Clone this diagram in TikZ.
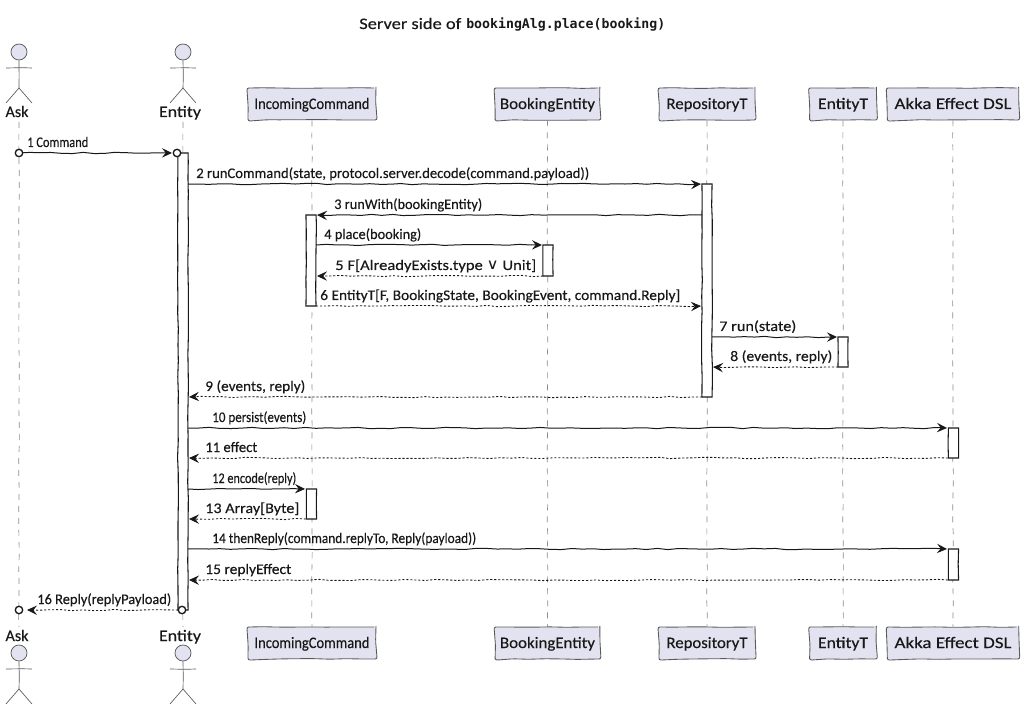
\documentclass[tikz,border=0pt]{standalone}
\usepackage{fontspec}
\usepackage{graphicx}
\usetikzlibrary{arrows.meta,decorations.pathmorphing}
\setmainfont{Carlito}[FakeBold=0.25]
\newfontfamily\monob{DejaVu Sans Mono}
\newfontfamily\symb{DejaVu Sans}
\definecolor{partfill}{HTML}{E2E2F0}
\definecolor{partline}{HTML}{5A5A5A}
\definecolor{lifeline}{HTML}{8C8C8C}
\definecolor{ink}{HTML}{181818}
\newcommand{\fitw}[2]{\resizebox{\dimexpr0.75pt*#1\relax}{\height}{#2}}
\newcommand{\msg}[8]{%
  \coordinate (#1-s) at (#2,#4);
  \coordinate (#1-t) at (#3,#4);
  \draw[#5] (#1-s) -- (#1-t);
  \node[msgtext] (#1-l) at (#6,#4-6) {\fitw{#7}{#8}};
}
\newcommand{\actbar}[4]{%
  \node[barbox,minimum height=\dimexpr0.75pt*(#4-#3)\relax] (#1) at ({#2},{(#3+#4)/2}) {};
}
\newcommand{\stickman}[3]{%
  % name, x, top of head
  \node[headshape] (#1-head) at ({#2},{#3+8}) {};
  \coordinate (#1-hip) at ({#2},{#3+44});
  \coordinate (#1-arml) at ({#2-13},{#3+24});
  \coordinate (#1-armr) at ({#2+13},{#3+24});
  \coordinate (#1-legl) at ({#2-13},{#3+59});
  \coordinate (#1-legr) at ({#2+13},{#3+59});
  \draw[stick] (#1-head) -- (#1-hip);
  \draw[stick] (#1-arml) -- (#1-armr);
  \draw[stick] (#1-legl) -- (#1-hip) -- (#1-legr);
}
\tikzset{
  x=0.75pt,y=-0.75pt,
  wob/.style={decorate,decoration={random steps,segment length=8pt,amplitude=0.5pt}},
  wobfine/.style={decorate,decoration={random steps,segment length=12pt,amplitude=0.3pt}},
  partbox/.style={draw=partline,fill=partfill,rounded corners=1.5pt,line width=0.65pt,inner sep=0pt,wobfine,
    minimum height=24pt},
  actname/.style={inner sep=0pt,anchor=base,text=ink,font=\fontsize{12pt}{14pt}\selectfont},
  life/.style={draw=lifeline,line width=0.5pt,dash pattern=on 4.5pt off 4.5pt,wobfine},
  barbox/.style={draw=ink,fill=white,line width=0.8pt,minimum width=7.6pt,inner sep=0pt,wobfine},
  headshape/.style={circle,draw=partline,fill=partfill,line width=0.55pt,minimum size=12pt,inner sep=0pt},
  stick/.style={draw=partline,line width=0.5pt,wobfine},
  msgtext/.style={inner sep=0pt,anchor=base west,text=ink,font=\fontsize{11pt}{13pt}\selectfont},
  sol/.style={draw=ink,line width=0.75pt,wob,-{Stealth[length=7.5pt,width=7pt,inset=2.8pt]}},
  das/.style={draw=ink,line width=0.65pt,wob,dash pattern=on 1.6pt off 1.4pt,-{Stealth[length=7.5pt,width=7pt,inset=2.8pt,line width=0.6pt]}},
  endball/.style={circle,draw=ink,fill=white,line width=1pt,minimum size=5.6pt,inner sep=0pt},
}
\begin{document}
\begin{tikzpicture}
\pgfmathsetseed{41}
\useasboundingbox (0,0) rectangle (1025,709);
% title
\node[inner sep=0pt,anchor=base west,text=ink,font=\fontsize{12pt}{14pt}\selectfont] (title) at (359,29) {\fitw{102}{Server side of}};
\node[inner sep=0pt,anchor=base west,text=ink,font=\monob\bfseries\fontsize{9.9pt}{12pt}\selectfont] (titlecode) at (466,29) {\fitw{199}{bookingAlg.place(booking)}};
% actors
\node[actname] (ask-top) at (17,117) {\fitw{23}{Ask}};
\node[actname] (ent-top) at (180,117) {\fitw{42}{Entity}};
\node[actname] (ask-bot) at (17,641) {\fitw{23}{Ask}};
\node[actname] (ent-bot) at (180,641) {\fitw{42}{Entity}};
\stickman{askt}{19}{44}
\stickman{entt}{183}{44}
\stickman{askb}{19}{645}
\stickman{entb}{183}{645}
% participants
\node[partbox,minimum width=96pt] (ic-top) at (312,104) {};
\node[partbox,minimum width=78.5pt] (be-top) at (547.5,104) {};
\node[partbox,minimum width=72pt] (rt-top) at (707,104) {};
\node[partbox,minimum width=50pt] (et-top) at (843,104) {};
\node[partbox,minimum width=98.5pt] (ae-top) at (953,104) {};
\node[partbox,minimum width=96pt] (ic-bot) at (312,643) {};
\node[partbox,minimum width=78.5pt] (be-bot) at (547.5,643) {};
\node[partbox,minimum width=72pt] (rt-bot) at (707,643) {};
\node[partbox,minimum width=50pt] (et-bot) at (843,643) {};
\node[partbox,minimum width=98.5pt] (ae-bot) at (953,643) {};
\foreach \n/\xx/\w/\t in {ic/312/115/IncomingCommand,be/547.5/95/BookingEntity,rt/707/81/RepositoryT,et/843/50/EntityT,ae/953/117/Akka Effect DSL}{
  \node[actname] (\n-tl) at (\xx,109) {\fitw{\w}{\t}};
  \node[actname] (\n-bl) at (\xx,648) {\fitw{\w}{\t}};
}
% lifelines
\coordinate (ask-a) at (19,122); \coordinate (ask-b) at (19,627);
\coordinate (ent-a) at (183,122); \coordinate (ent-b) at (183,627);
\draw[life] (ask-a) -- (ask-b);
\draw[life] (ent-a) -- (ent-b);
\draw[life] (ic-top.south) -- (ic-bot.north);
\draw[life] (be-top.south) -- (be-bot.north);
\draw[life] (rt-top.south) -- (rt-bot.north);
\draw[life] (et-top.south) -- (et-bot.north);
\draw[life] (ae-top.south) -- (ae-bot.north);
% activation bars
\actbar{ent-bar}{183}{153}{610}
\actbar{ic-bar}{311}{215}{306}
\actbar{be-bar}{548}{245}{276}
\actbar{rt-bar}{707}{184}{397}
\actbar{et-bar}{843}{337}{367}
\actbar{ae-bar}{953.5}{428}{458}
\actbar{ic-bar2}{311.5}{489}{519}
\actbar{ae-bar2}{953.5}{549}{580}
% messages
\msg{m1}{19}{172}{153}{sol}{27}{61}{1 Command}
\msg{m2}{188}{701}{184}{sol}{196}{393}{2 runCommand(state, protocol.server.decode(command.payload))}
\msg{m3}{702}{317}{215}{sol}{334}{148}{3 runWith(bookingEntity)}
\msg{m4}{316}{542}{245}{sol}{324}{97}{4 place(booking)}
\msg{m5}{543}{317}{276}{das}{335}{201}{5 F[AlreadyExists.type {\symb ∨} Unit]}
\msg{m6}{316}{701}{306}{das}{320}{360}{6 EntityT[F, BookingState, BookingEvent, command.Reply]}
\msg{m7}{712}{837}{337}{sol}{719}{77}{7 run(state)}
\msg{m8}{838}{713}{367}{das}{730}{102}{8 (events, reply)}
\msg{m9}{702}{189}{397}{das}{205}{100}{9 (events, reply)}
\msg{m10}{188}{947}{428}{sol}{212}{94}{10 persist(events)}
\msg{m11}{948}{189}{458}{das}{205}{52}{11 effect}
\msg{m12}{188}{305}{489}{sol}{212}{84}{12 encode(reply)}
\msg{m13}{306}{189}{519}{das}{205}{94}{13 Array[Byte]}
\msg{m14}{188}{947}{549}{sol}{212}{264}{14 thenReply(command.replyTo, Reply(payload))}
\msg{m15}{948}{189}{580}{das}{205}{86}{15 replyEffect}
\msg{m16}{178}{27}{610}{das}{37}{134}{16 Reply(replyPayload)}
% lost/found balls
\node[endball] (b1) at (19,153) {};
\node[endball] (b2) at (177,153) {};
\node[endball] (b3) at (182,610) {};
\node[endball] (b4) at (19,610) {};
\end{tikzpicture}
\end{document}
